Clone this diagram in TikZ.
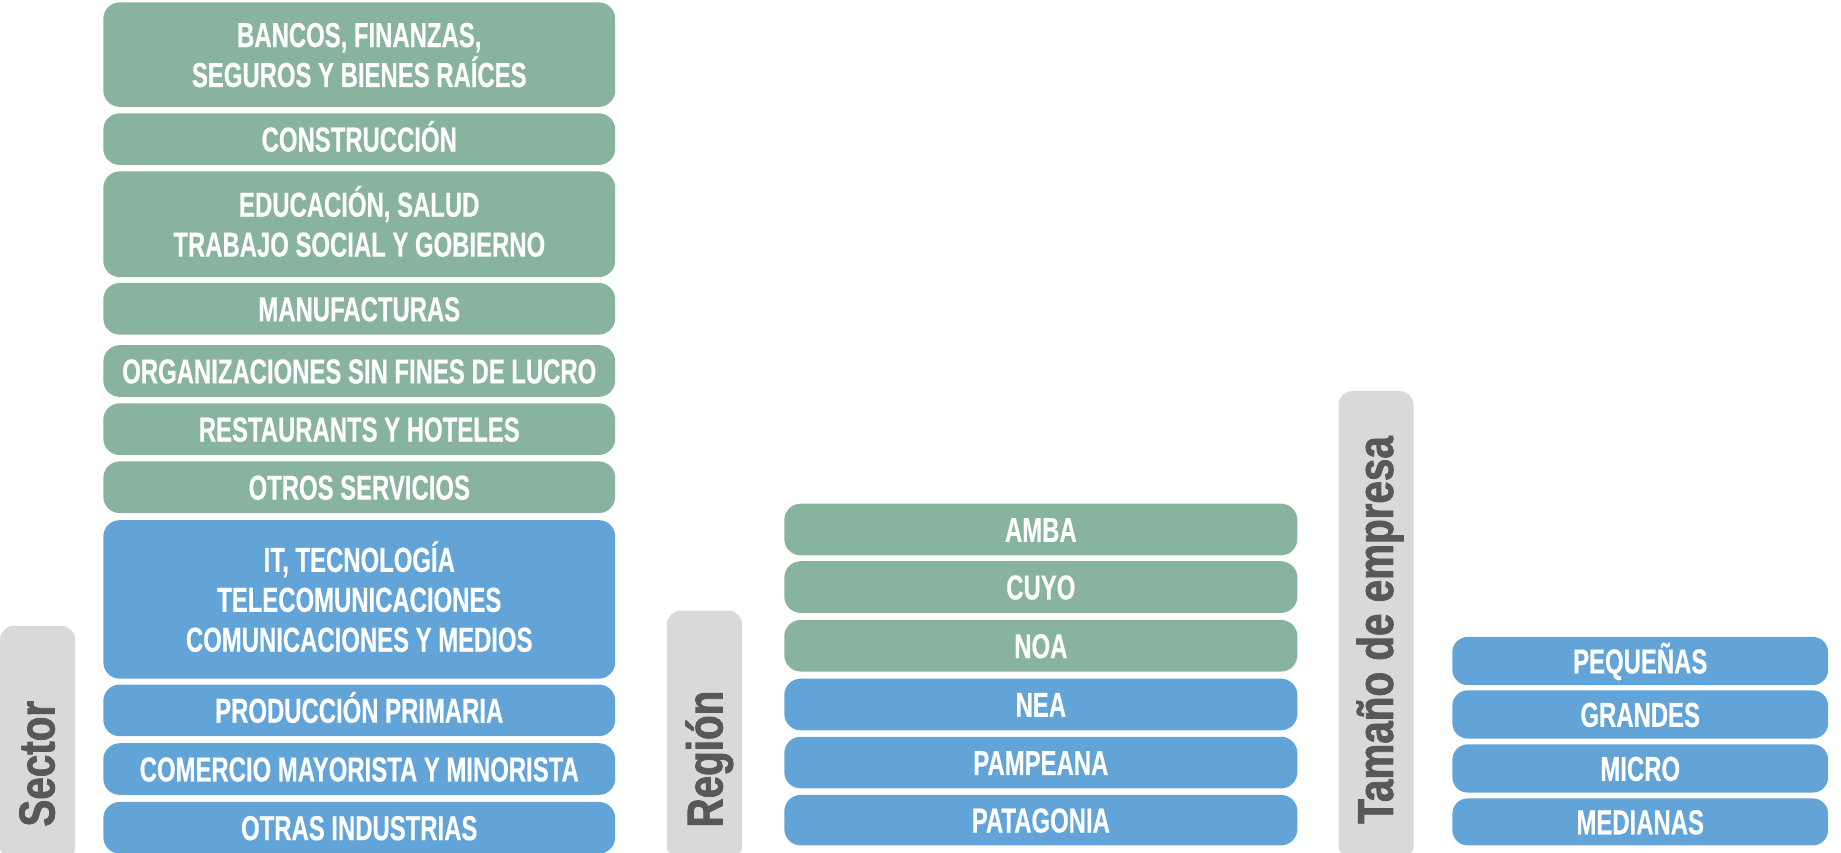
\documentclass[tikz,border=0pt]{standalone}
\usepackage{fontspec}
\newfontfamily\boxfont{Liberation Sans}[FakeStretch=0.69, FakeBold=0.4]
\newfontfamily\labfont{Liberation Sans}[FakeStretch=0.8, FakeBold=1.5]
\definecolor{sgreen}{RGB}{136,179,158}
\definecolor{sblue}{RGB}{98,164,215}
\definecolor{lgray}{RGB}{217,217,219}
\definecolor{tgray}{RGB}{88,88,90}
\tikzset{
  cat/.style={rectangle, rounded corners=14pt, draw=none, text=white, align=center,
    font={\boxfont\bfseries\fontsize{29.5pt}{34pt}\selectfont},
    text height=21.1pt, text depth=0pt, inner sep=0pt},
  gbox/.style={cat, fill=sgreen},
  bbox/.style={cat, fill=sblue},
  twolines/.style={text height=55.1pt},
  threelines/.style={text height=89.1pt},
  secw/.style={minimum width=436pt},
  regw/.style={minimum width=437pt},
  sizew/.style={minimum width=320pt, rounded corners=13pt},
  labbox/.style={rectangle, rounded corners=12pt, fill=lgray, draw=none, minimum width=64pt, inner sep=0pt},
  labtext/.style={rotate=90, text=tgray, font={\labfont\bfseries\fontsize{43pt}{50pt}\selectfont},
    text height=30.8pt, text depth=0pt, inner sep=0pt}
}
\begin{document}
\begin{tikzpicture}[x=1pt,y=-1pt]
\useasboundingbox (0,0) rectangle (1568,726);
\clip (0,0) rectangle (1568,726);
% Sector
\node[labbox, minimum height=200pt] (seclab) at (32,633) {};
\node[labtext] (sectxt) at (31,650.5) {Sector};
\node[gbox, secw, twolines, minimum height=89pt] (s1) at (306,46.5) {BANCOS, FINANZAS,\\SEGUROS Y BIENES RAÍCES};
\node[gbox, secw, minimum height=44pt] (s2) at (306,118.5) {CONSTRUCCIÓN};
\node[gbox, secw, twolines, minimum height=90pt] (s3) at (306,191) {EDUCACIÓN, SALUD\\TRABAJO SOCIAL Y GOBIERNO};
\node[gbox, secw, minimum height=44pt] (s4) at (306,263) {MANUFACTURAS};
\node[gbox, secw, minimum height=44pt] (s5) at (306,316) {ORGANIZACIONES SIN FINES DE LUCRO};
\node[gbox, secw, minimum height=44pt] (s6) at (306,365.5) {RESTAURANTS Y HOTELES};
\node[gbox, secw, minimum height=44pt] (s7) at (306,415) {OTROS SERVICIOS};
\node[bbox, secw, threelines, minimum height=135pt] (s8) at (306,510.5) {IT, TECNOLOGÍA\\TELECOMUNICACIONES\\COMUNICACIONES Y MEDIOS};
\node[bbox, secw, minimum height=44pt] (s9) at (306,605) {PRODUCCIÓN PRIMARIA};
\node[bbox, secw, minimum height=44pt] (s10) at (306,655) {COMERCIO MAYORISTA Y MINORISTA};
\node[bbox, secw, minimum height=44pt] (s11) at (306,705) {OTRAS INDUSTRIAS};
% Region
\node[labbox, minimum height=212pt] (reglab) at (600,626) {};
\node[labtext] (regtxt) at (600,646.5) {Región};
\node[gbox, regw, minimum height=44pt] (r1) at (886.5,451) {AMBA};
\node[gbox, regw, minimum height=44pt] (r2) at (886.5,500) {CUYO};
\node[gbox, regw, minimum height=44pt] (r3) at (886.5,550) {NOA};
\node[bbox, regw, minimum height=44pt] (r4) at (886.5,600) {NEA};
\node[bbox, regw, minimum height=44pt] (r5) at (886.5,649.5) {PAMPEANA};
\node[bbox, regw, minimum height=43pt] (r6) at (886.5,698.5) {PATAGONIA};
% Size
\node[labbox, minimum height=399pt] (sizlab) at (1172,532.5) {};
\node[labtext] (siztxt) at (1171,536.5) {Tamaño de empresa};
\node[bbox, sizew, minimum height=41pt] (z1) at (1397,563) {PEQUEÑAS};
\node[bbox, sizew, minimum height=41pt] (z2) at (1397,608.5) {GRANDES};
\node[bbox, sizew, minimum height=41pt] (z3) at (1397,654.5) {MICRO};
\node[bbox, sizew, minimum height=40pt] (z4) at (1397,700) {MEDIANAS};
\end{tikzpicture}
\end{document}
